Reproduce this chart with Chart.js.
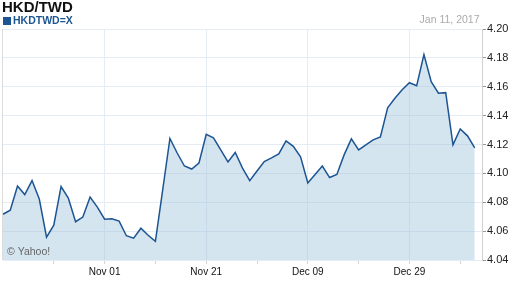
<!DOCTYPE html>
<html>
<head>
<meta charset="utf-8">
<script src="https://cdn.jsdelivr.net/npm/chart.js@4.4.1/dist/chart.umd.min.js"></script>
<style>
  html, body { margin: 0; padding: 0; background: #fff; }
  #c { display: block; }
</style>
</head>
<body>
<canvas id="c" width="512" height="288"></canvas>
<script>
// ---- data (trading days, Oct 12 2016 – Jan 11 2017) ----
const dates = [
  "Oct 12","Oct 13","Oct 14","Oct 17","Oct 18","Oct 19","Oct 20","Oct 21","Oct 24","Oct 25",
  "Oct 26","Oct 27","Oct 28","Oct 31","Nov 01","Nov 02","Nov 03","Nov 04","Nov 07","Nov 08",
  "Nov 09","Nov 10","Nov 11","Nov 14","Nov 15","Nov 16","Nov 17","Nov 18","Nov 21","Nov 22",
  "Nov 23","Nov 24","Nov 25","Nov 28","Nov 29","Nov 30","Dec 01","Dec 02","Dec 05","Dec 06",
  "Dec 07","Dec 08","Dec 09","Dec 12","Dec 13","Dec 14","Dec 15","Dec 16","Dec 19","Dec 20",
  "Dec 21","Dec 22","Dec 23","Dec 26","Dec 27","Dec 28","Dec 29","Dec 30","Jan 02","Jan 03",
  "Jan 04","Jan 05","Jan 06","Jan 09","Jan 10","Jan 11"
];
const rates = [
  4.0717,4.0745,4.0912,4.0853,4.0950,4.0822,4.0558,4.0641,4.0909,4.0829,
  4.0665,4.0697,4.0836,4.0766,4.0683,4.0686,4.0669,4.0568,4.0551,4.0620,
  4.0571,4.0530,4.0884,4.1242,4.1141,4.1051,4.1030,4.1072,4.1270,4.1246,
  4.1162,4.1079,4.1145,4.1037,4.0950,4.1016,4.1082,4.1107,4.1135,4.1225,
  4.1187,4.1114,4.0933,4.0992,4.1051,4.0971,4.0992,4.1128,4.1239,4.1162,
  4.1197,4.1232,4.1253,4.1454,4.1520,4.1579,4.1628,4.1607,4.1823,4.1635,
  4.1555,4.1559,4.1197,4.1308,4.1260,4.1176
];
const majorTickDates = ["Nov 01","Nov 21","Dec 09","Dec 29"];
const minorTickDates = ["Oct 21","Nov 10","Nov 30","Dec 20","Jan 09"];
const yTickValues = [4.04,4.06,4.08,4.10,4.12,4.14,4.16,4.18,4.20];
const seriesName = "HKDTWD=X";
const chartTitle = "HKD/TWD";
const dateLabel = "Jan 11, 2017";
const creditLabel = "\u00A9 Yahoo!";

// ---- derived ----
const points = rates.map((v, i) => ({ x: i, y: v }));
const majorPos = majorTickDates.map(d => dates.indexOf(d));
const minorPos = minorTickDates.map(d => dates.indexOf(d));
const allTickPos = majorPos.concat(minorPos).sort((a, b) => a - b);

const FONT = '"Liberation Sans", Arial, sans-serif';
const LINE = '#1c5592';
const GRID = '#e6ecf3';

const decor = {
  id: 'decor',
  afterDatasetsDraw(chart) {
    const ctx = chart.ctx, a = chart.chartArea;
    ctx.save();
    // left border
    ctx.strokeStyle = '#dcdcdc';
    ctx.lineWidth = 1;
    ctx.beginPath();
    ctx.moveTo(a.left - 0.5, a.top);
    ctx.lineTo(a.left - 0.5, a.bottom);
    ctx.stroke();
    // credit
    ctx.font = '10.5px ' + FONT;
    ctx.fillStyle = '#666';
    ctx.textBaseline = 'middle';
    ctx.textAlign = 'left';
    ctx.fillText(creditLabel, 7, 252);
    ctx.restore();
  },
  afterDraw(chart) {
    const ctx = chart.ctx;
    ctx.save();
    ctx.textBaseline = 'middle';
    ctx.textAlign = 'left';
    ctx.font = 'bold 15px ' + FONT;
    ctx.fillStyle = '#111';
    ctx.fillText(chartTitle, 2, 8);
    ctx.fillStyle = LINE;
    ctx.fillRect(3, 17, 8, 8);
    ctx.font = 'bold 10.5px ' + FONT;
    ctx.fillText(seriesName, 13, 21);
    ctx.font = '10.5px ' + FONT;
    ctx.fillStyle = '#aaaaaa';
    ctx.textAlign = 'right';
    ctx.fillText(dateLabel, 479.5, 20);
    ctx.restore();
  }
};

new Chart(document.getElementById('c'), {
  type: 'line',
  data: {
    datasets: [{
      label: seriesName,
      data: points,
      borderColor: LINE,
      borderWidth: 1.5,
      backgroundColor: 'rgba(150,190,218,0.4)',
      fill: 'start',
      pointRadius: 0,
      tension: 0
    }]
  },
  options: {
    responsive: false,
    animation: false,
    devicePixelRatio: 1,
    layout: { padding: { left: 3, top: 29, right: 0, bottom: 0 } },
    plugins: { legend: { display: false }, title: { display: false }, tooltip: { enabled: false } },
    scales: {
      x: {
        type: 'linear',
        min: 0,
        max: dates.length,
        afterBuildTicks(scale) { scale.ticks = allTickPos.map(v => ({ value: v })); },
        afterFit(scale) { scale.height = 28; },
        ticks: {
          autoSkip: false,
          maxRotation: 0,
          padding: 2,
          color: '#111',
          font: { family: FONT, size: 10 },
          callback: (v) => majorPos.includes(v) ? dates[v] : ''
        },
        grid: {
          color: (c) => (c.tick && majorPos.includes(c.tick.value)) ? GRID : 'rgba(0,0,0,0)',
          tickColor: '#d4d4d4',
          tickLength: 4,
          lineWidth: 1
        },
        border: { display: false }
      },
      y: {
        type: 'linear',
        position: 'right',
        min: yTickValues[0],
        max: yTickValues[yTickValues.length - 1],
        afterBuildTicks(scale) { scale.ticks = yTickValues.map(v => ({ value: v })); },
        afterFit(scale) { scale.width = 30; },
        ticks: {
          padding: 1,
          color: '#222',
          font: { family: FONT, size: 11 },
          callback: (v) => Number(v).toFixed(2)
        },
        grid: {
          color: GRID,
          tickColor: '#999',
          tickLength: 4,
          lineWidth: 1
        },
        border: { display: true, color: '#d0d0d0' }
      }
    }
  },
  plugins: [decor]
});
</script>
</body>
</html>
